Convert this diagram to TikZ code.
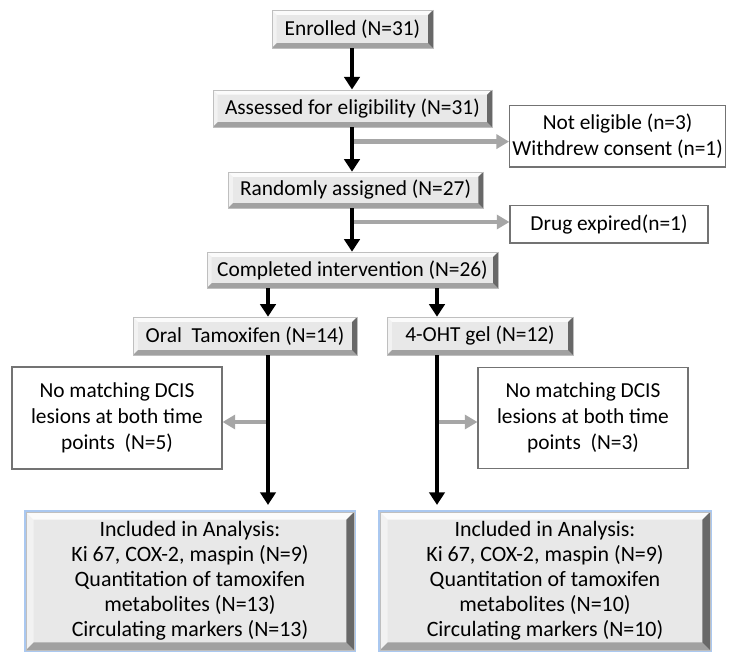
\documentclass[tikz,border=0pt]{standalone}
\usepackage{fontspec}
\setmainfont{Carlito}
\usetikzlibrary{arrows.meta,positioning}
\definecolor{glow}{RGB}{170,200,240}

\begin{document}
\begin{tikzpicture}[font=\fontsize{15.2}{18.5}\selectfont,
  bevel/.style={draw=black!25,fill=black!9,align=center,inner sep=2pt,
    path picture={
      \path (path picture bounding box.north west) coordinate (bnw)
            (path picture bounding box.south east) coordinate (bse)
            (bnw -| bse) coordinate (bne) (bnw |- bse) coordinate (bsw);
      \fill[white,opacity=.85] (bnw) -- (bne) -- ([shift={(-#1,-#1)}]bne) -- ([shift={(#1,-#1)}]bnw) -- cycle;
      \fill[white,opacity=.45] (bnw) -- (bsw) -- ([shift={(#1,#1)}]bsw) -- ([shift={(#1,-#1)}]bnw) -- cycle;
      \fill[black,opacity=.55] (bne) -- (bse) -- ([shift={(-#1,#1)}]bse) -- ([shift={(-#1,-#1)}]bne) -- cycle;
      \fill[black,opacity=.3] (bsw) -- (bse) -- ([shift={(-#1,#1)}]bse) -- ([shift={(#1,#1)}]bsw) -- cycle;
    }},
  bevel/.default=.12cm,
  plain/.style={draw=black!55,fill=white,line width=.8pt,align=center,inner sep=2pt},
  anabox/.style={bevel=.19cm,preaction={draw=glow,line width=3pt},font=\fontsize{15.6}{17.8}\selectfont},
  arr/.style={-{Triangle[width=11pt,length=9pt]},line width=3pt},
  garr/.style={-{Triangle[width=10pt,length=9pt]},line width=3.5pt,draw=black!35}]
\useasboundingbox (0,0) rectangle (18.425,-16.35);

\node[bevel,minimum width=4.03cm,minimum height=.95cm] (enr) at (8.81,-.725) {Enrolled (N=31)};
\node[bevel,minimum width=6.98cm,minimum height=.93cm] (ass) at (8.81,-2.71) {Assessed for eligibility (N=31)};
\node[bevel,minimum width=6.38cm,minimum height=.9cm] (rand) at (8.89,-4.75) {Randomly assigned (N=27)};
\node[bevel,minimum width=7.28cm,minimum height=.9cm] (comp) at (8.81,-6.75) {Completed intervention (N=26)};
\node[bevel,minimum width=5.6cm,minimum height=.95cm] (oral) at (6.125,-8.4) {Oral\ \ Tamoxifen (N=14)};
\node[bevel,minimum width=4.65cm,minimum height=.95cm] (gel) at (12.0,-8.4) {4-OHT gel (N=12)};

\node[plain,minimum width=5.28cm,minimum height=1.53cm] (inel) at (15.44,-3.41) {Not eligible (n=3)\\Withdrew consent (n=1)};
\node[plain,minimum width=4.95cm,minimum height=.93cm] (drug) at (15.225,-5.61) {Drug expired(n=1)};
\node[plain,minimum width=5.25cm,minimum height=2.55cm] (nmL) at (2.925,-10.45) {No matching DCIS\\lesions at both time\\points\ \ (N=5)};
\node[plain,minimum width=5.25cm,minimum height=2.53cm] (nmR) at (14.575,-10.45) {No matching DCIS\\lesions at both time\\points\ \ (N=3)};

\node[anabox,minimum width=8.2cm,minimum height=3.45cm] (anaL) at (4.75,-14.525) {Included in Analysis:\\Ki 67, COX-2, maspin (N=9)\\Quantitation of tamoxifen\\metabolites (N=13)\\Circulating markers (N=13)};
\node[anabox,minimum width=8.25cm,minimum height=3.45cm] (anaR) at (13.625,-14.525) {Included in Analysis:\\Ki 67, COX-2, maspin (N=9)\\Quantitation of tamoxifen\\metabolites (N=10)\\Circulating markers (N=10)};

\coordinate (mx) at (8.8,0);
\coordinate (lx) at (6.7,0);
\coordinate (rx) at (10.925,0);

% exclusions
\draw[garr] (mx |- inel.west) ++(0,-.13) -- ([yshift=-.13cm]inel.west);
\draw[garr] (mx |- drug.west) ++(0,.06) -- ([yshift=.06cm]drug.west);
\draw[garr] (lx |- nmL.east) ++(0,-.1) -- ([yshift=-.1cm]nmL.east);
\draw[garr] (rx |- nmR.west) ++(0,-.1) -- ([yshift=-.1cm]nmR.west);

% main flow
\draw[arr] (mx |- enr.south) -- (mx |- ass.north);
\draw[arr] (mx |- ass.south) -- (mx |- rand.north);
\draw[arr] (mx |- rand.south) -- (mx |- comp.north);
\draw[arr] (lx |- comp.south) -- (lx |- oral.north);
\draw[arr] (rx |- comp.south) -- (rx |- gel.north);
\draw[arr,shorten >=.17cm] (lx |- oral.south) -- (lx |- anaL.north);
\draw[arr,shorten >=.17cm] (rx |- gel.south) -- (rx |- anaR.north);
\end{tikzpicture}
\end{document}
